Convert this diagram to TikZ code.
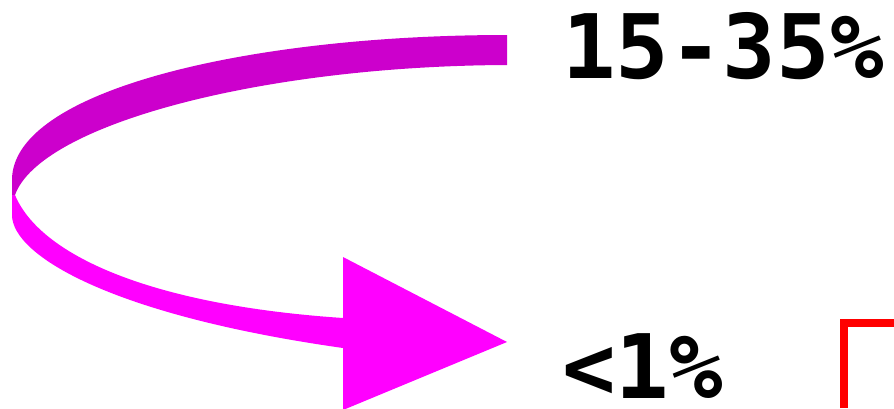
\documentclass[tikz,border=0pt]{standalone}
\usepackage{fontspec}
\usepackage{xcolor}
\usepackage{tikz}
\newfontfamily\pctfont{DejaVu Sans Mono}
\definecolor{ribbondark}{HTML}{CC00CC}
\definecolor{ribbonlight}{HTML}{FF00FF}
\definecolor{cornerred}{HTML}{FF0000}

\begin{document}
\begin{tikzpicture}[x=1pt,y=-1pt,
    pct/.style={anchor=base west,inner sep=0pt,font=\pctfont\bfseries\fontsize{89}{89}\selectfont}]
        \useasboundingbox (0,0) rectangle (894,408);
        % upper (back) half of the ribbon
        \fill[ribbondark] (507,35) .. controls (250,35) and (12,90) .. (12,180)
            -- (12,195) -- (15,195) .. controls (40,125) and (260,66) .. (507,65) -- cycle;
        % lower (front) half and the head
        \fill[ribbonlight] (15,195) .. controls (40,255) and (150,305) .. (343,318)
            -- (343,257) -- (507,342) -- (343,410) -- (343,348)
            .. controls (110,315) and (12,255) .. (12,215) -- (12,195) -- cycle;
        \node[pct] (high) at (562,78) {15-35\%};
        \node[pct] (low) at (562,398) {<1\%};
        % corner of the frame at the edge
        \draw[cornerred,line width=8pt] (844,408) -- (844,323) -- (894,323);
    \end{tikzpicture}
\end{document}
